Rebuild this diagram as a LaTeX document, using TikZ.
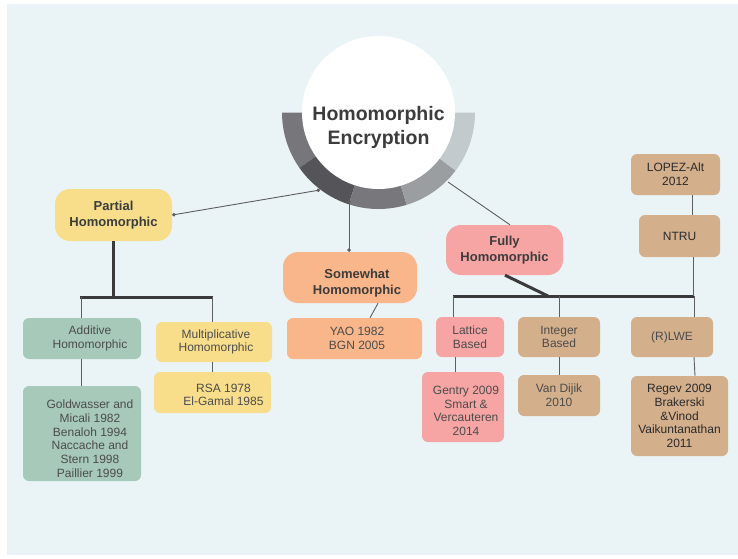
\documentclass[tikz,border=0pt]{standalone}
\usepackage{fontspec}
\setmainfont{Liberation Sans}
\usetikzlibrary{arrows.meta,calc}
\definecolor{bgc}{HTML}{EAF4F6}
\definecolor{yel}{HTML}{F8DE8A}
\definecolor{grn}{HTML}{A7C9BA}
\definecolor{org}{HTML}{F9B68A}
\definecolor{pnk}{HTML}{F6A4A4}
\definecolor{tan}{HTML}{D3AF8C}
\definecolor{ringA}{HTML}{77767A}
\definecolor{ringB}{HTML}{555459}
\definecolor{ringC}{HTML}{78787C}
\definecolor{ringD}{HTML}{9B9EA1}
\definecolor{ringE}{HTML}{C2CACD}
\definecolor{hdtext}{HTML}{3C3C3C}
\definecolor{smtext}{HTML}{4C4C4C}
\definecolor{dktext}{HTML}{2A2A2A}
\definecolor{linec}{HTML}{5E5E5E}
\definecolor{barc}{HTML}{3A3A3A}
\begin{document}
\begin{tikzpicture}[x=1pt,y=-1pt,
  hd/.style={font=\bfseries\fontsize{13}{15.5}\selectfont, text=hdtext, align=center, rounded corners=15pt, inner sep=0pt},
  sm/.style={font=\fontsize{12}{13.7}\selectfont, text=smtext, align=center, rounded corners=6pt, inner sep=0pt},
  sz/.style 2 args={minimum width=#1pt, minimum height=#2pt},
  conn/.style={draw=linec, line width=0.9pt},
  hbar/.style={draw=barc, line width=3pt},
  dot/.style={{Circle[length=3.5pt]}-{Circle[length=3.5pt]}}
]
\useasboundingbox (0,0) rectangle (738,558);
\fill[white] (0,0) rectangle (738,558);
\fill[bgc] (7,4) rectangle (738,555);

% hub ring
\coordinate (C) at (378.5,112.5);
\foreach \a/\b/\c in {180/215/ringA, 215/252/ringB, 252/287/ringC, 287/323/ringD, 323/360/ringE}
  \fill[\c] ($(C)+(\a:96.5pt)$) arc[start angle=\a, end angle=\b, radius=96.5pt]
     -- ($(C)+(\b:72pt)$) arc[start angle=\b, end angle=\a, radius=72pt] -- cycle;
\node[circle, fill=white, minimum size=153pt, inner sep=0pt] (hub) at (C) {};
\node[font=\bfseries\fontsize{19.5}{24}\selectfont, text=hdtext, align=center] (title) at (378.5,127) {Homomorphic\\Encryption};

% main category nodes
\node[hd, fill=yel, sz={117}{52}] (partial) at (113.5,215) {Partial\\Homomorphic};
\node[hd, fill=org, sz={134}{51}] (somewhat) at (350,277.5) {\rule{0pt}{21pt}\hspace*{14pt}Somewhat\\\hspace*{14pt}Homomorphic};
\node[hd, fill=pnk, sz={117}{50}] (fully) at (504.5,250) {Fully\\Homomorphic};

% partial subtree
\node[sm, fill=grn, sz={118}{41}] (additive) at (82,338.5) {\hspace*{16pt}Additive\\\hspace*{16pt}Homomorphic};
\node[sm, fill=grn, sz={118}{95}] (gold) at (82,433.5) {\rule{0pt}{19pt}\hspace*{16pt}Goldwasser and\\\hspace*{16pt}Micali 1982\\\hspace*{16pt}Benaloh 1994\\\hspace*{16pt}Naccache and\\\hspace*{16pt}Stern 1998\\\hspace*{16pt}Paillier 1999};
\node[sm, fill=yel, sz={116}{40}] (mult) at (214,342) {\hspace*{4pt}Multiplicative\\\hspace*{4pt}Homomorphic};
\node[sm, fill=yel, sz={117}{41}] (rsa) at (212.5,392.5) {\rule{0pt}{13pt}\hspace*{22pt}RSA 1978\\\hspace*{22pt}El-Gamal 1985};

% somewhat subtree
\node[sm, fill=org, sz={135}{41}] (yao) at (354.5,338.5) {\hspace*{5pt}YAO 1982\\\hspace*{5pt}BGN 2005};

% fully subtree
\node[sm, fill=pnk, sz={68}{40}] (lattice) at (470,337) {Lattice\\Based};
\node[sm, fill=pnk, sz={82}{70}] (gentry) at (463,407) {\rule{0pt}{16pt}\hspace*{6pt}Gentry 2009\\\hspace*{6pt}Smart \&\\\hspace*{6pt}Vercauteren\\\hspace*{6pt}2014};
\node[sm, fill=tan, sz={82}{40}] (integer) at (559,337) {Integer\\Based};
\node[sm, fill=tan, sz={82}{41}] (vandijik) at (559,395.5) {Van Dijik\\2010};
\node[sm, fill=tan, sz={82}{40}] (rlwe) at (672,337) {(R)LWE};
\node[sm, fill=tan, sz={97}{80}, text=dktext] (regev) at (679.5,416) {Regev 2009\\Brakerski\\\&Vinod\\Vaikuntanathan\\2011};
\node[sm, fill=tan, sz={89}{41}, text=dktext] (lopez) at (675.5,174.5) {LOPEZ-Alt\\2012};
\node[sm, fill=tan, sz={81}{42}, text=dktext] (ntru) at (679.5,236) {NTRU};

% hub connectors
\coordinate (hp) at (320,190);
\coordinate (hs) at (349,200);
\coordinate (hf) at (448,182);
\draw[conn, dot] (hp) -- (partial.east);
\draw[conn, dot] (hs) -- (hs |- somewhat.north);
\draw[conn] (hf) -- ([xshift=5.5pt]fully.north);

% partial tree
\coordinate (pbar) at (113.5,297);
\coordinate (pl) at (80,297);
\coordinate (pr) at (213,297);
\draw[hbar] (partial.south) -- (pbar);
\draw[hbar] (pl) -- (pr);
\draw[conn] ([xshift=1pt]pl) -- ([xshift=1pt]pl |- additive.north);
\draw[conn] ([xshift=-1pt]pr) -- ([xshift=-1pt]pr |- mult.north);
\draw[conn] ([xshift=-1pt]additive.south) -- ([xshift=-1pt]gold.north);
\draw[conn] ([xshift=-2pt]mult.south) -- ([xshift=-0.5pt]rsa.north);

% somewhat tree
\draw[conn] ([xshift=28pt]somewhat.south) -- ([xshift=15.5pt]yao.north);

% fully tree
\coordinate (fbar) at (548,296);
\coordinate (fl) at (453,296);
\coordinate (fr) at (694,296);
\draw[hbar] ([xshift=0.5pt]fully.south) -- (fbar);
\draw[hbar] (fl) -- (fr);
\draw[conn] (fl) -- (fl |- lattice.north);
\draw[conn] (559,296) -- (integer.north);
\draw[conn] (fr) -- (fr |- rlwe.north);
\draw[conn] ([xshift=13.5pt]ntru.south) -- ([xshift=13.5pt]ntru.south |- fr);
\draw[conn] ([xshift=-15pt]lattice.south) -- ([xshift=-8pt]gentry.north);
\draw[conn] (integer.south) -- (vandijik.north);
\draw[conn] ([xshift=22pt]rlwe.south) -- ([xshift=15.5pt]regev.north);
\draw[conn] ([xshift=16.5pt]lopez.south) -- ([xshift=12.5pt]ntru.north);
\end{tikzpicture}
\end{document}
